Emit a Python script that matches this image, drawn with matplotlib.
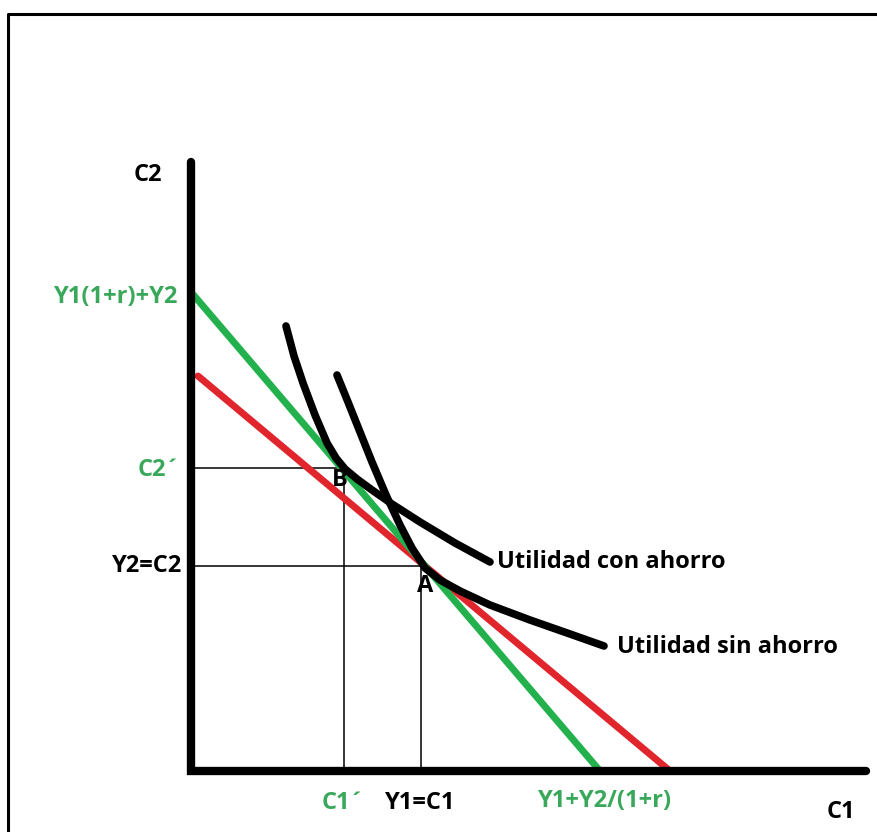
import matplotlib.pyplot as plt

# valores (unidades arbitrarias, origen en la esquina de los ejes)
Y1 = 2.30          # Y1 = C1
Y2 = 2.05          # Y2 = C2
C1_prima = 1.53
C2_prima = 3.03

# restriccion con ahorro (verde) y sin ahorro (roja)
verde_x = [0.0, 4.09]
verde_y = [4.79, 0.0]
roja_x = [0.07, 4.79]
roja_y = [3.95, 0.0]

# curvas de indiferencia
con_x = [0.95, 1.03, 1.12, 1.24, 1.36, 1.45, 1.54, 1.66, 1.81, 2.01, 2.29, 2.64, 2.99]
con_y = [4.45, 4.15, 3.88, 3.56, 3.28, 3.13, 3.02, 2.92, 2.81, 2.67, 2.49, 2.28, 2.09]
sin_x = [1.46, 1.57, 1.69, 1.81, 1.95, 2.09, 2.21, 2.34, 2.49, 2.69, 2.99, 3.39, 3.79, 4.13]
sin_y = [3.96, 3.69, 3.39, 3.09, 2.76, 2.46, 2.23, 2.03, 1.91, 1.80, 1.66, 1.51, 1.37, 1.25]

eje_c1 = 6.75
eje_c2 = 6.09

VERDE = '#22b14c'
VERDE_TXT = '#3aa85a'
ROJO = '#e0252d'

plt.rcParams['font.family'] = ['Open Sans', 'DejaVu Sans']

fig = plt.figure(figsize=(8.78, 8.32), dpi=100)
ax = fig.add_axes([0, 0, 1, 1])
ax.set_xlim(-1.91, 6.87)
ax.set_ylim(-0.61, 7.71)
ax.axis('off')

# marco
ax.plot([-1.83, -1.83, 6.87], [-0.61, 7.57, 7.57], color='black', lw=2.2)

# lineas guia finas
ax.plot([0, C1_prima, C1_prima], [C2_prima, C2_prima, 0], color='black', lw=1.1)
ax.plot([0, Y1, Y1], [Y2, Y2, 0], color='black', lw=1.1)

# restricciones presupuestarias
ax.plot(roja_x, roja_y, color=ROJO, lw=5, solid_capstyle='round')
ax.plot(verde_x, verde_y, color=VERDE, lw=5, solid_capstyle='round')

# curvas de utilidad
ax.plot(con_x, con_y, color='black', lw=5.5, solid_capstyle='round', solid_joinstyle='round')
ax.plot(sin_x, sin_y, color='black', lw=5.5, solid_capstyle='round', solid_joinstyle='round')

# ejes
ax.plot([0, 0, eje_c1], [eje_c2, 0, 0], color='black', lw=6,
        solid_capstyle='round', solid_joinstyle='miter')

fs = 17
kw = dict(fontsize=fs, fontweight='bold', va='center')
ax.text(-0.43, 5.96, 'C2', ha='center', color='black', **kw)
ax.text(-0.13, 4.74, 'Y1(1+r)+Y2', ha='right', color=VERDE_TXT, **kw)
ax.text(-0.10, 3.01, 'C2´', ha='right', color=VERDE_TXT, **kw)
ax.text(-0.09, 2.05, 'Y2=C2', ha='right', color='black', **kw)
ax.text(1.49, 2.91, 'B', ha='center', color='black', **kw)
ax.text(2.34, 1.85, 'A', ha='center', color='black', **kw)
ax.text(1.52, -0.32, 'C1´', ha='center', color=VERDE_TXT, **kw)
ax.text(2.29, -0.32, 'Y1=C1', ha='center', color='black', **kw)
ax.text(4.14, -0.30, 'Y1+Y2/(1+r)', ha='center', color=VERDE_TXT, **kw)
ax.text(6.50, -0.41, 'C1', ha='center', color='black', **kw)
ax.text(3.06, 2.09, 'Utilidad con ahorro', ha='left', color='black', **kw)
ax.text(4.26, 1.24, 'Utilidad sin ahorro', ha='left', color='black', **kw)

fig.savefig('out.png', dpi=100)
